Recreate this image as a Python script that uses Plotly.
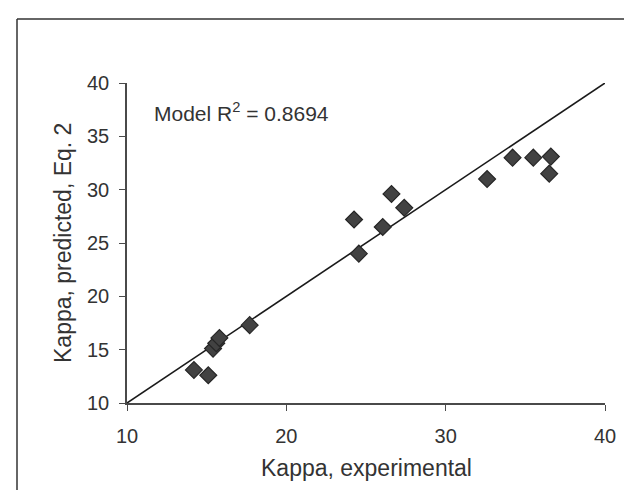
import plotly.graph_objects as go

# Data
kappa_exp = [14.2, 15.1, 15.4, 15.6, 15.8, 17.7, 24.25, 24.55, 26.05, 26.6, 27.4, 32.6, 34.2, 35.5, 36.6, 36.5]
kappa_pred = [13.1, 12.6, 15.1, 15.6, 16.1, 17.3, 27.2, 24.0, 26.5, 29.6, 28.3, 31.0, 33.0, 33.0, 33.1, 31.5]
line_x = [10, 40]
line_y = [10, 40]
x_ticks = [10, 20, 30, 40]
y_ticks = [10, 15, 20, 25, 30, 35, 40]
annotation_text = "Model R<sup>2</sup> = 0.8694"
x_title = "Kappa, experimental"
y_title = "Kappa, predicted, Eq. 2"

W, H = 632, 490
L, R, T, B = 119, 35, 75, 95
pw, ph = W - L - R, H - T - B

def px_x(p):
    return (p - L) / pw

def px_y(p):
    return 1 - (p - T) / ph

FONT = "Liberation Sans, Arial"
TXT = "#333333"

fig = go.Figure()
fig.add_trace(go.Scatter(x=line_x, y=line_y, mode="lines",
                         line=dict(color="#1a1a1a", width=1.6),
                         showlegend=False, hoverinfo="skip"))
fig.add_trace(go.Scatter(x=kappa_exp, y=kappa_pred, mode="markers",
                         marker=dict(symbol="diamond", size=13, color="#424242",
                                     line=dict(color="#262626", width=1.2)),
                         showlegend=False))

fig.add_annotation(x=11.6, y=37.3, xref="x", yref="y", text=annotation_text,
                   showarrow=False, xanchor="left", yanchor="middle",
                   font=dict(family=FONT, size=21, color=TXT))
fig.add_annotation(x=0.5, y=px_y(460), xref="paper", yref="paper", text=x_title,
                   showarrow=False, xanchor="center", yanchor="middle",
                   font=dict(family=FONT, size=23, color=TXT))
fig.add_annotation(x=px_x(55), y=0.5, xref="paper", yref="paper", text=y_title,
                   showarrow=False, xanchor="center", yanchor="middle", textangle=-90,
                   font=dict(family=FONT, size=23, color=TXT))

axis_font = dict(family=FONT, size=20, color=TXT)
fig.update_xaxes(range=[10, 40], tickvals=x_ticks, showgrid=False, zeroline=False,
                 showline=True, linecolor="#4a4a4a", linewidth=1.5, automargin=False,
                 ticks="outside", ticklen=6, tickcolor="#4a4a4a", tickfont=axis_font,
                 ticklabelstandoff=8)
fig.update_yaxes(range=[10, 40], tickvals=y_ticks, showgrid=False, zeroline=False,
                 showline=True, linecolor="#4a4a4a", linewidth=1.5, automargin=False,
                 ticks="outside", ticklen=6, tickcolor="#4a4a4a", tickfont=axis_font,
                 ticklabelstandoff=6)

# outer frame (top and left lines)
fig.add_shape(type="line", xref="paper", yref="paper",
              x0=px_x(9), x1=px_x(640), y0=px_y(11), y1=px_y(11),
              line=dict(color="#333333", width=1.5))
fig.add_shape(type="line", xref="paper", yref="paper",
              x0=px_x(9), x1=px_x(9), y0=px_y(11), y1=px_y(500),
              line=dict(color="#333333", width=1.5))

fig.update_layout(width=W, height=H, margin=dict(l=L, r=R, t=T, b=B),
                  paper_bgcolor="white", plot_bgcolor="white")
fig.write_html("out.html")
